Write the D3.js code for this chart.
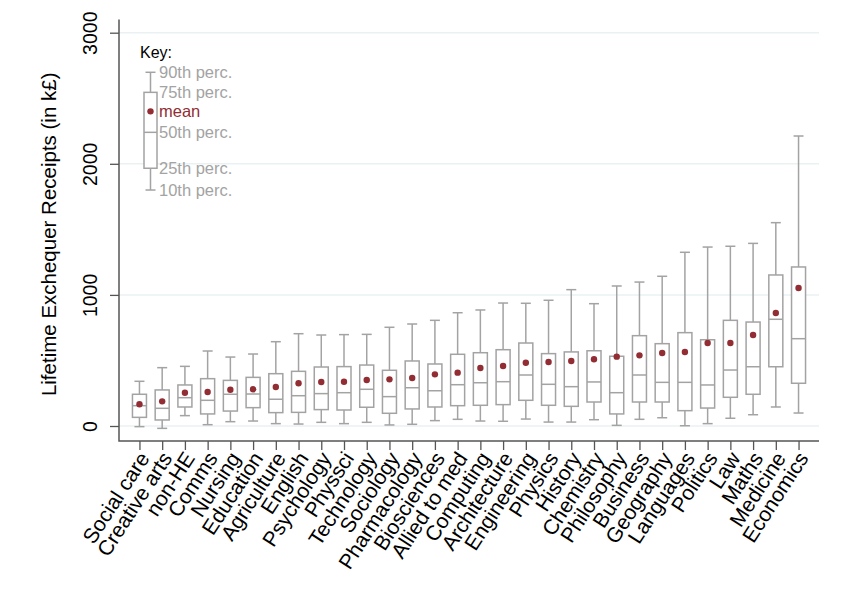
<!DOCTYPE html>
<html>
<head>
<meta charset="utf-8">
<script src="https://cdn.jsdelivr.net/npm/d3@7"></script>
<style>
  body { margin: 0; background: #fff; }
  svg { font-family: "Liberation Sans", Arial, sans-serif; }
</style>
</head>
<body>
<div id="chart"></div>
<script>
// subject names, sorted by mean
var categories = ["Social care", "Creative arts", "non-HE", "Comms", "Nursing", "Education",
  "Agriculture", "English", "Psychology", "Physsci", "Technology", "Sociology", "Pharmacology",
  "Biosciences", "Allied to med", "Computing", "Architecture", "Engineering", "Physics", "History",
  "Chemistry", "Philosophy", "Business", "Geography", "Languages", "Politics", "Law", "Maths",
  "Medicine", "Economics"];

// percentiles and means, in k£
var p10 = [-5, -18, 79, 10, 33, 38, 18, 15, 28, 18, 28, 8, 13, 41, 51, 38, 36, 53, 30, 30,
  48, 5, 51, 63, 2, 18, 59, 86, 145, 99];
var p25 = [66, 46, 145, 92, 114, 140, 102, 104, 125, 122, 143, 97, 130, 145, 155, 158, 163, 196, 158, 150,
  183, 92, 183, 183, 117, 137, 219, 242, 452, 326];
var p50 = [155, 135, 216, 196, 242, 244, 204, 231, 247, 254, 280, 224, 292, 269, 315, 330, 338, 389, 318, 300,
  336, 254, 389, 333, 333, 313, 427, 452, 814, 666];
var p75 = [242, 275, 313, 361, 348, 371, 399, 417, 450, 453, 465, 425, 496, 473, 547, 559, 582, 633, 552, 565,
  574, 532, 689, 628, 712, 658, 806, 793, 1152, 1213];
var p90 = [341, 445, 455, 572, 526, 549, 643, 704, 694, 697, 699, 753, 778, 806, 864, 885, 938, 936, 959, 1040,
  933, 1068, 1098, 1142, 1325, 1365, 1371, 1393, 1551, 2212];
var means = [166, 188, 254, 259, 277, 280, 297, 326, 336, 338, 351, 356, 366, 394, 407, 442, 458, 483, 488, 496,
  509, 529, 539, 557, 564, 633, 633, 694, 862, 1053];

var yTicks = [0, 1000, 2000, 3000];

// key box
var keyLabels = ["90th perc.", "75th perc.", "mean", "50th perc.", "25th perc.", "10th perc."];
var keyValues = [2698, 2545, 2400, 2240, 1966, 1800];

var width = 848, height = 606;
var boxGrey = "#a3a3a3", meanRed = "#912d33";

var svg = d3.select("#chart").append("svg")
  .attr("width", width)
  .attr("height", height);

var x = d3.scalePoint()
  .domain(categories)
  .range([119, 819])
  .padding(0.9);

var y = d3.scaleLinear()
  .domain([0, 3000])
  .range([426, 32.7]);

// gridlines
svg.append("g").selectAll("line")
  .data(yTicks)
  .enter().append("line")
  .attr("x1", 119).attr("x2", 819)
  .attr("y1", function(d) { return y(d); })
  .attr("y2", function(d) { return y(d); })
  .attr("stroke", "#eaf1f3")
  .attr("stroke-width", 1.5);

// y axis
var yAxis = svg.append("g")
  .attr("transform", "translate(119,0)")
  .call(d3.axisLeft(y).tickValues(yTicks).tickSize(9).tickFormat(d3.format("d")));
yAxis.select(".domain").remove();
yAxis.selectAll(".tick line").attr("stroke", "#555").attr("stroke-width", 1.3);
yAxis.selectAll(".tick text")
  .attr("x", null).attr("dy", null)
  .attr("transform", "translate(-22,0) rotate(-90)")
  .attr("text-anchor", "middle")
  .attr("fill", "#000")
  .style("font-size", "19.5px");

// x axis
var xAxis = svg.append("g")
  .attr("transform", "translate(0,441)")
  .call(d3.axisBottom(x).tickSize(9));
xAxis.select(".domain").remove();
xAxis.selectAll(".tick line").attr("stroke", "#555").attr("stroke-width", 1.3);
xAxis.selectAll(".tick text")
  .attr("y", null).attr("dy", null)
  .attr("transform", "translate(4,13) rotate(-57)")
  .attr("text-anchor", "end")
  .attr("dominant-baseline", "central")
  .attr("fill", "#000")
  .style("font-size", "21px");

// axis lines
svg.append("path")
  .attr("d", "M119," + y(3100) + "V441H819")
  .attr("fill", "none")
  .attr("stroke", "#555")
  .attr("stroke-width", 1.5);

// axis title
svg.append("text")
  .attr("transform", "translate(56," + ((y(3100) + 441) / 2 + 4) + ") rotate(-90)")
  .attr("text-anchor", "middle")
  .style("font-size", "20.5px")
  .text("Lifetime Exchequer Receipts (in k£)");

// boxes
var data = categories.map(function(c, i) {
  return { name: c, x: x(c), p10: p10[i], p25: p25[i], p50: p50[i], p75: p75[i], p90: p90[i], mean: means[i] };
});

function drawBox(g, d, bw, cw) {
  g.append("line")
    .attr("x1", d.x).attr("x2", d.x)
    .attr("y1", y(d.p90)).attr("y2", y(d.p75));
  g.append("line")
    .attr("x1", d.x).attr("x2", d.x)
    .attr("y1", y(d.p25)).attr("y2", y(d.p10));
  g.append("line")
    .attr("x1", d.x - cw / 2).attr("x2", d.x + cw / 2)
    .attr("y1", y(d.p90)).attr("y2", y(d.p90));
  g.append("line")
    .attr("x1", d.x - cw / 2).attr("x2", d.x + cw / 2)
    .attr("y1", y(d.p10)).attr("y2", y(d.p10));
  g.append("rect")
    .attr("x", d.x - bw / 2).attr("width", bw)
    .attr("y", y(d.p75)).attr("height", y(d.p25) - y(d.p75))
    .attr("fill", "#fff");
  g.append("line")
    .attr("x1", d.x - bw / 2).attr("x2", d.x + bw / 2)
    .attr("y1", y(d.p50)).attr("y2", y(d.p50));
  g.append("circle")
    .attr("cx", d.x).attr("cy", y(d.mean)).attr("r", 3.2)
    .attr("fill", meanRed).attr("stroke", "none");
}

var boxes = svg.append("g")
  .attr("stroke", boxGrey)
  .attr("stroke-width", 1.5);

data.forEach(function(d) {
  drawBox(boxes.append("g"), d, 14, 10);
});

// key
var key = svg.append("g").attr("stroke", boxGrey).attr("stroke-width", 1.5);
var kd = { x: 150.5, p90: keyValues[0], p75: keyValues[1], mean: keyValues[2], p50: keyValues[3], p25: keyValues[4], p10: keyValues[5] };
drawBox(key, kd, 13, 10);

svg.append("text")
  .attr("x", 140).attr("y", 58)
  .style("font-size", "16px")
  .text("Key:");

svg.append("g").selectAll("text")
  .data(keyLabels)
  .enter().append("text")
  .attr("x", 159)
  .attr("y", function(d, i) { return y(keyValues[i]); })
  .attr("dy", "0.35em")
  .attr("fill", function(d) { return d === "mean" ? meanRed : "#a3a3a3"; })
  .style("font-size", "16.5px")
  .text(function(d) { return d; });
</script>
</body>
</html>
